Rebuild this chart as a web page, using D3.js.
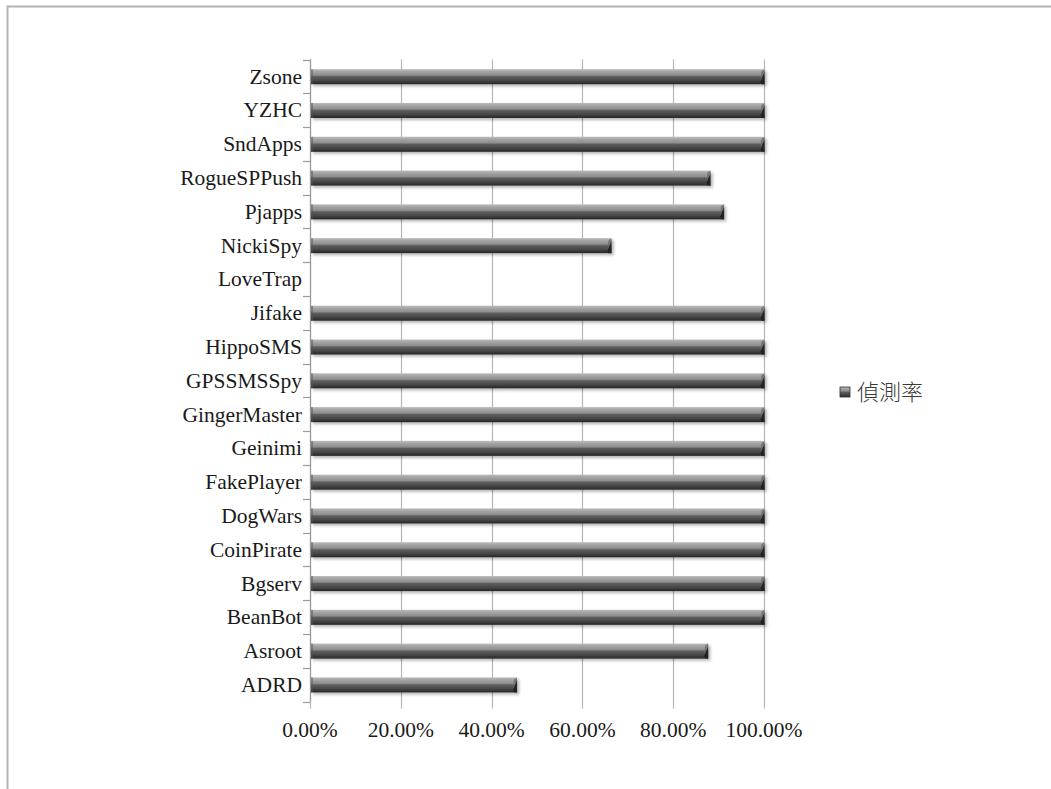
<!DOCTYPE html>
<html>
<head>
<meta charset="utf-8">
<script src="https://cdn.jsdelivr.net/npm/d3@7"></script>
<style>
html,body{margin:0;padding:0;background:#fff;}
svg{display:block;}
</style>
</head>
<body>
<svg id="chart" width="1051" height="789"></svg>
<script>
const categories = ["Zsone","YZHC","SndApps","RogueSPPush","Pjapps","NickiSpy","LoveTrap","Jifake","HippoSMS","GPSSMSSpy","GingerMaster","Geinimi","FakePlayer","DogWars","CoinPirate","Bgserv","BeanBot","Asroot","ADRD"];
const values = [1.00,1.00,1.00,0.881,0.911,0.663,0,1.00,1.00,1.00,1.00,1.00,1.00,1.00,1.00,1.00,1.00,0.876,0.455];
const xTicks = [0,0.2,0.4,0.6,0.8,1.0];
const seriesName = "偵測率";

(function(){
const svg = d3.select("#chart");
const W = 1051, H = 789;
const pLeft = 310, pRight = 764, pTop = 59.5, pBottom = 701.5;

// border
svg.append("path")
  .attr("d", `M7.5,${H} L7.5,6.5 L${W},6.5`)
  .attr("fill","none").attr("stroke","#b3b3b3").attr("stroke-width",2);

const x = d3.scaleLinear().domain([0,1]).range([pLeft,pRight]);
const y = d3.scaleBand().domain(categories).range([pTop,pBottom]).paddingInner(0).paddingOuter(0);

const defs = svg.append("defs");
const g = defs.append("linearGradient").attr("id","barGrad").attr("x1",0).attr("y1",0).attr("x2",0).attr("y2",1);
[[0,"#bdbdbd"],[0.15,"#a6a6a6"],[0.4,"#8e8e8e"],[0.5,"#5e5e5e"],[0.75,"#474747"],[1,"#262626"]]
  .forEach(([o,c])=>g.append("stop").attr("offset",o).attr("stop-color",c));
const sh = defs.append("filter").attr("id","shadow").attr("x","-5%").attr("y","-30%").attr("width","110%").attr("height","180%");
sh.append("feGaussianBlur").attr("in","SourceAlpha").attr("stdDeviation",1.5).attr("result","b");
sh.append("feOffset").attr("in","b").attr("dx",1.5).attr("dy",2).attr("result","o");
sh.append("feComponentTransfer").attr("in","o").attr("result","o2").append("feFuncA").attr("type","linear").attr("slope",0.3);
const m = sh.append("feMerge"); m.append("feMergeNode").attr("in","o2"); m.append("feMergeNode").attr("in","SourceGraphic");

// gridlines
svg.append("g").selectAll("line").data(xTicks).join("line")
  .attr("x1",d=>Math.round(x(d))+0.5).attr("x2",d=>Math.round(x(d))+0.5)
  .attr("y1",pTop).attr("y2",pBottom+7)
  .attr("stroke","#b5b5b5").attr("stroke-width",1.2);

// y axis line and ticks
const yAxis = svg.append("g");
yAxis.append("line").attr("x1",pLeft+0.5).attr("x2",pLeft+0.5).attr("y1",pTop).attr("y2",pBottom)
  .attr("stroke","#9a9a9a").attr("stroke-width",1.2);
const bounds = categories.map(c=>y(c)).concat([pBottom]);
yAxis.selectAll("line.t").data(bounds).join("line").attr("class","t")
  .attr("x1",pLeft-7).attr("x2",pLeft).attr("y1",d=>Math.round(d)+0.5).attr("y2",d=>Math.round(d)+0.5)
  .attr("stroke","#9a9a9a").attr("stroke-width",1.2);

// bars
const bh = 15;
const by = d=>y(d.c)+y.bandwidth()/2-bh/2+0.3;
const bars = svg.append("g").selectAll("g").data(categories.map((c,i)=>({c,v:values[i]})).filter(d=>d.v>0)).join("g")
  .attr("filter","url(#shadow)");
bars.append("rect")
  .attr("x",pLeft+1).attr("y",by)
  .attr("width",d=>x(d.v)-pLeft-0.5).attr("height",bh)
  .attr("fill","url(#barGrad)");
// right end bevel
bars.append("path")
  .attr("d",d=>{const x1=x(d.v)+0.5, y0=by(d); return `M${x1-4},${y0+bh-3} L${x1},${y0+2} L${x1},${y0+bh} L${x1-3},${y0+bh} Z`;})
  .attr("fill","#1e1e1e").attr("opacity",0.85);
bars.append("path")
  .attr("d",d=>{const x1=x(d.v)+0.5, y0=by(d); return `M${x1-4},${y0+bh-3} L${x1},${y0+2} L${x1},${y0} L${x1-3},${y0+2} Z`;})
  .attr("fill","#6a6a6a").attr("opacity",0.8);
// left end shading
bars.append("rect")
  .attr("x",pLeft+1).attr("y",by).attr("width",2).attr("height",bh)
  .attr("fill","#555").attr("opacity",0.5);

// category labels
svg.append("g").selectAll("text").data(categories).join("text")
  .attr("x",302).attr("y",d=>y(d)+y.bandwidth()/2)
  .attr("dy","0.34em").attr("text-anchor","end")
  .attr("font-family","'Liberation Serif','Times New Roman',serif").attr("font-size",21.5)
  .attr("fill","#1a1a1a").text(d=>d);

// x tick labels
svg.append("g").selectAll("text").data(xTicks).join("text")
  .attr("x",d=>x(d)).attr("y",737).attr("text-anchor","middle")
  .attr("font-family","'Liberation Serif','Times New Roman',serif").attr("font-size",21.5)
  .attr("fill","#1a1a1a").text(d=>d3.format(".2%")(d));

// legend
const lg = svg.append("g").attr("transform","translate(840,387)");
lg.append("rect").attr("x",0).attr("y",0).attr("width",10).attr("height",10)
  .attr("fill","url(#barGrad)").attr("stroke","#333").attr("stroke-width",0.8);
lg.append("text").attr("x",17).attr("y",13)
  .attr("font-family","'Noto Sans CJK TC','Noto Sans CJK SC',sans-serif").attr("font-size",22).attr("font-weight",300)
  .attr("fill","#3a3a3a").text(seriesName);
})();
</script>
</body>
</html>
